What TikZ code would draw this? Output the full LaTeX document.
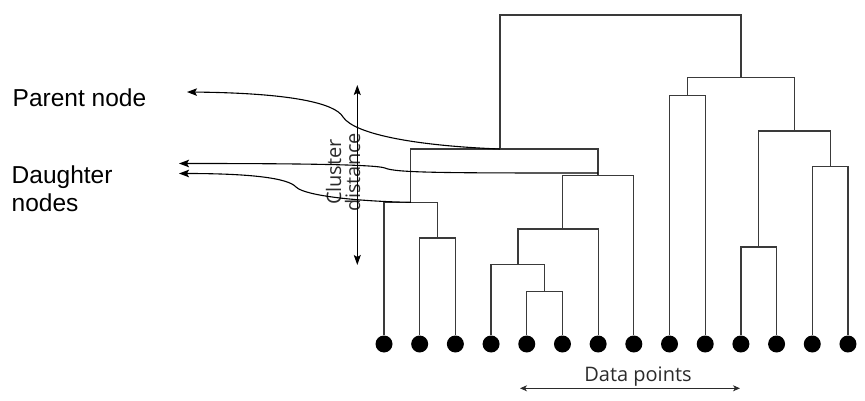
\documentclass[tikz,border=0pt]{standalone}
\usepackage{fontspec}
\setmainfont{Liberation Sans}
\newfontfamily\lblfont{Open Sans}
\usetikzlibrary{arrows.meta}
\definecolor{linegray}{HTML}{3A3A3A}
\definecolor{textgray}{HTML}{2B2B2B}
\tikzset{
  leaf/.style={circle, fill=black, inner sep=0pt, minimum size=17pt},
  link/.style={draw=linegray, line width=1.2pt},
  pointer/.style={draw=black, line width=1.1pt, -{Stealth[length=10pt, width=7.5pt, inset=2pt]}},
  span/.style={draw=black, line width=1pt, {Stealth[length=10pt, width=7pt, inset=2pt]}-{Stealth[length=10pt, width=7pt, inset=2pt]}},
  thinspan/.style={draw=textgray, line width=0.9pt, {Stealth[length=7pt, width=6pt, inset=2pt]}-{Stealth[length=7pt, width=6pt, inset=2pt]}},
}
\begin{document}
\begin{tikzpicture}[x=1pt, y=-1pt]
\useasboundingbox (0,0) rectangle (865,401);

% data points
\foreach \i in {1,...,14}
  \node[leaf] (L\i) at ({384+(\i-1)*35.69},344) {};

% merge points
\coordinate (m23)    at (437.5,238);
\coordinate (m123)   at (410.8,202.3);
\coordinate (m56)    at (544.6,291.3);
\coordinate (m456)   at (517.9,264.3);
\coordinate (m4567)  at (562.3,229);
\coordinate (m45678) at (598,175.7);
\coordinate (m18)    at (500,149);
\coordinate (m910)   at (687.4,95.7);
\coordinate (m1112)  at (758.7,247);
\coordinate (m1314)  at (830.2,166.7);
\coordinate (m1114)  at (794.5,131);
\coordinate (m914)   at (741,77.7);
\coordinate (root)   at (620.5,15);

\draw[link] (L2) |- (m23) -| (L3);
\draw[link] (L1) |- (m123) -| (m23);
\draw[link] (L5) |- (m56) -| (L6);
\draw[link] (L4) |- (m456) -| (m56);
\draw[link] (m456) |- (m4567) -| (L7);
\draw[link] (m4567) |- (m45678) -| (L8);
\draw[link] (m123) |- (m18) -| (m45678);
\draw[link] (L9) |- (m910) -| (L10);
\draw[link] (L11) |- (m1112) -| (L12);
\draw[link] (L13) |- (m1314) -| (L14);
\draw[link] (m1112) |- (m1114) -| (m1314);
\draw[link] (m910) |- (m914) -| (m1114);
\draw[link] (m18) |- (root) -| (m914);

% labels
\node[anchor=base west, inner sep=0pt, font=\fontsize{24.5}{28.7}\selectfont] (parent) at (12.5,106.7) {Parent node};
\node[anchor=north west, inner sep=0pt, align=left, font=\fontsize{24.5}{28.7}\selectfont] (daughter) at (11.5,165.3) {Daughter\\nodes};
\node[rotate=90, inner sep=0pt, align=center, text=textgray, font=\lblfont\fontsize{20}{19}\selectfont] (cluster) at (343,172) {Cluster\\distance};
\node[anchor=base, inner sep=0pt, text=textgray, font=\lblfont\fontsize{20}{24}\selectfont] (data) at (638,381.7) {Data points};

\coordinate (tipP)  at (187,92);
\coordinate (tipD1) at (179,163.5);
\coordinate (tipD2) at (179,173.5);
\coordinate (d1)    at (598,173);
\coordinate (cdTop) at (357.3,85);
\coordinate (cdBot) at (357.3,265);
\coordinate (dpL)   at (520,388.3);
\coordinate (dpR)   at (740,388.3);

% pointers
\draw[pointer] (m18) .. controls (420,146) and (355,135) .. (343,117)
  .. controls (335,103) and (290,93) .. (tipP);
\draw[pointer] (d1) .. controls (450,173) and (395,173) .. (385,168)
  .. controls (375,164.5) and (300,163.5) .. (tipD1);
\draw[pointer] (m123) .. controls (360,201.5) and (305,196) .. (296,187)
  .. controls (288,178) and (250,173.5) .. (tipD2);

\draw[span] (cdTop) -- (cdBot);
\draw[thinspan] (dpL) -- (dpR);
\end{tikzpicture}
\end{document}
